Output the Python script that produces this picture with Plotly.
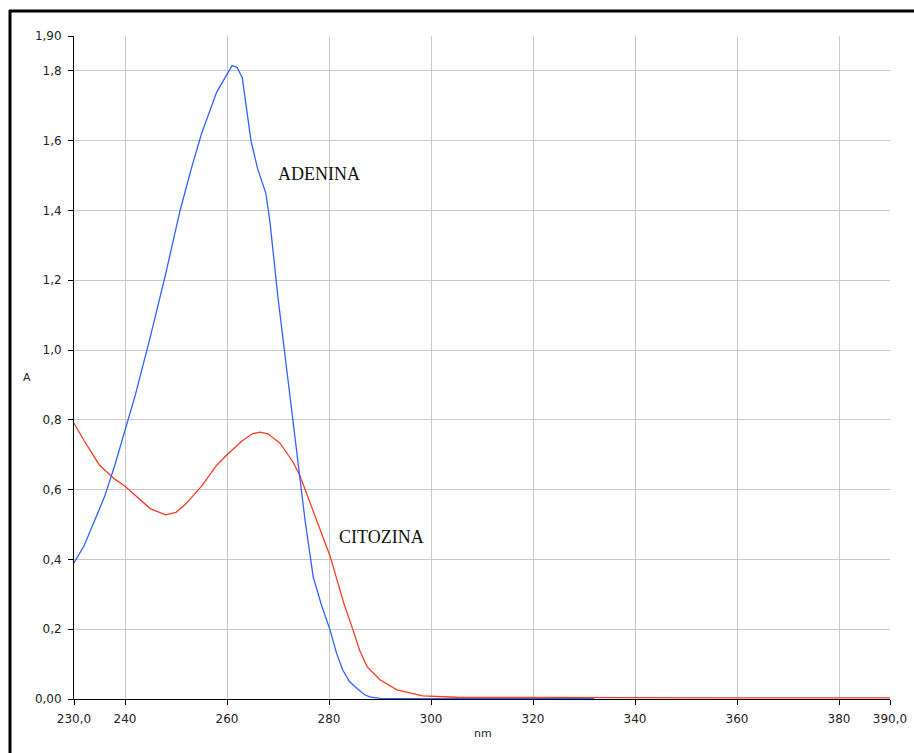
import plotly.graph_objects as go

# Adenina (blue)
ade_nm = [230, 232, 234, 236, 238, 240, 242, 245, 248, 250.8, 253, 255, 257, 258, 260, 261, 262, 263,
          264.7, 266, 267.6, 268.4, 270, 271.5, 272.9, 274.3, 275.3, 276.9, 278.5, 280.2, 281.5,
          282.7, 284, 285.5, 287, 288, 290, 295, 300, 310, 320, 332]
ade_A = [0.39, 0.44, 0.51, 0.58, 0.67, 0.77, 0.87, 1.04, 1.22, 1.40, 1.52, 1.62, 1.70, 1.74, 1.79, 1.815,
         1.81, 1.78, 1.60, 1.52, 1.45, 1.37, 1.15, 0.97, 0.80, 0.636, 0.513, 0.35, 0.27, 0.198, 0.13,
         0.083, 0.05, 0.03, 0.012, 0.006, 0.002, 0.001, 0.001, 0.001, 0.001, 0.001]

# Citozina (red)
cit_nm = [230, 232, 235, 238, 240, 243, 245, 248, 250, 252, 255, 258, 260, 263, 265, 266.5, 268,
          270.4, 272.9, 274.3, 276.9, 280.2, 281.8, 283, 284.7, 286, 287.5, 290.0, 293.3, 298.4,
          305, 320, 340, 360, 390]
cit_A = [0.79, 0.74, 0.67, 0.63, 0.61, 0.57, 0.545, 0.528, 0.535, 0.56, 0.61, 0.67, 0.70, 0.74, 0.76,
         0.765, 0.76, 0.733, 0.68, 0.64, 0.54, 0.41, 0.33, 0.27, 0.198, 0.14, 0.092, 0.055, 0.026, 0.009,
         0.005, 0.004, 0.003, 0.003, 0.003]

x_ticks = [230, 240, 260, 280, 300, 320, 340, 360, 380, 390]
x_labels = ["230,0", "240", "260", "280", "300", "320", "340", "360", "380", "390,0"]
y_ticks = [0, 0.2, 0.4, 0.6, 0.8, 1.0, 1.2, 1.4, 1.6, 1.8, 1.9]
y_labels = ["0,00", "0,2", "0,4", "0,6", "0,8", "1,0", "1,2", "1,4", "1,6", "1,8", "1,90"]

fig = go.Figure()
fig.add_trace(go.Scatter(x=cit_nm, y=cit_A, mode="lines", line=dict(color="#ff3b1f", width=1.3),
                         showlegend=False))
fig.add_trace(go.Scatter(x=ade_nm, y=ade_A, mode="lines", line=dict(color="#3060ff", width=1.3),
                         showlegend=False))

axis_font = dict(family="DejaVu Sans, Verdana, sans-serif", size=12, color="#222222")
fig.update_layout(
    width=914, height=753,
    margin=dict(l=74, r=24, t=36, b=54),
    paper_bgcolor="white", plot_bgcolor="white",
    xaxis=dict(range=[230, 390], tickvals=x_ticks, ticktext=x_labels, showgrid=True,
               gridcolor="#c8c8c8", gridwidth=1, showline=True, linecolor="black", linewidth=1,
               ticks="outside", ticklen=5, tickcolor="black", tickfont=axis_font, zeroline=False,
               layer="below traces", ticklabelstandoff=4, automargin=False),
    yaxis=dict(range=[0, 1.9], tickvals=y_ticks, ticktext=y_labels, showgrid=True,
               gridcolor="#c8c8c8", gridwidth=1, showline=True, linecolor="black", linewidth=1,
               ticks="outside", ticklen=5, tickcolor="black", tickfont=axis_font, zeroline=False,
               layer="below traces", ticklabelstandoff=4, automargin=False),
    font=axis_font,
)

pw, ph = 914 - 74 - 24, 753 - 36 - 54
def px(xp):
    return (xp - 74) / pw
def py(yp):
    return (753 - 54 - yp) / ph

serif = dict(family="Liberation Serif, Times New Roman, serif", size=18, color="#111111")
fig.add_annotation(x=269.6, y=1.504, xref="x", yref="y", text="ADENINA", showarrow=False,
                   xanchor="left", yanchor="middle", font=serif)
fig.add_annotation(x=281.6, y=0.465, xref="x", yref="y", text="CITOZINA", showarrow=False,
                   xanchor="left", yanchor="middle", font=serif)
small = dict(family="DejaVu Sans, Verdana, sans-serif", size=11, color="#222222")
fig.add_annotation(x=px(21), y=py(378), xref="paper", yref="paper", text="A", showarrow=False,
                   font=small)
fig.add_annotation(x=px(483), y=py(742), xref="paper", yref="paper", text="nm", showarrow=False,
                   font=small)

# frame lines of the window (top and left)
fig.add_shape(type="line", xref="paper", yref="paper", x0=px(9), x1=px(914), y0=py(11), y1=py(11),
              line=dict(color="black", width=3))
fig.add_shape(type="line", xref="paper", yref="paper", x0=px(10), x1=px(10), y0=py(10), y1=py(753),
              line=dict(color="black", width=3))

fig.write_html("out.html")
